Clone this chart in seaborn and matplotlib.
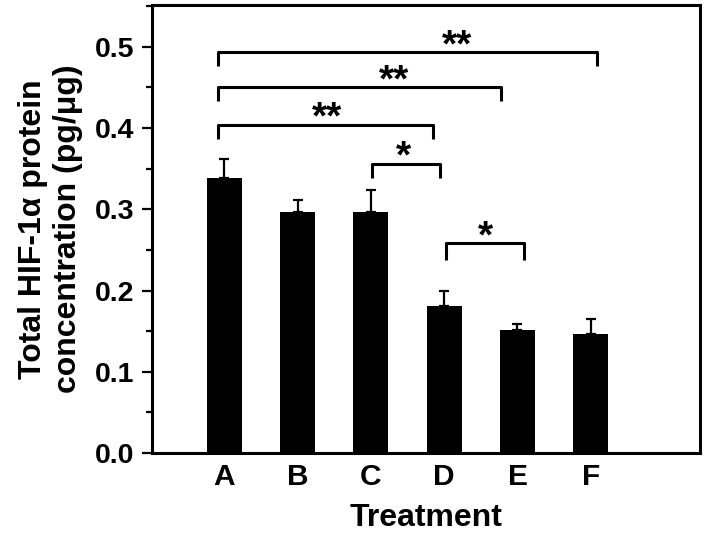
import numpy as np
import matplotlib
matplotlib.use('Agg')
import matplotlib.pyplot as plt
from matplotlib.ticker import MultipleLocator, FormatStrFormatter
import seaborn as sns

# --- data ---
treatments = ['A', 'B', 'C', 'D', 'E', 'F']
means = [0.338, 0.297, 0.297, 0.181, 0.152, 0.146]
errors = [0.024, 0.014, 0.027, 0.018, 0.007, 0.019]

# significance brackets: (left x, right x, bar height, leg drop, label, label x)
brackets = [
    (-0.08, 5.08, 0.493, 0.017, '**', 3.17),
    (-0.09, 3.78, 0.450, 0.017, '**', 2.31),
    (-0.08, 2.85, 0.404, 0.017, '**', 1.40),
    (2.02, 2.94, 0.356, 0.018, '*', 2.44),
    (3.02, 4.09, 0.258, 0.020, '*', 3.56),
]

sns.set_style('ticks')
plt.rcParams['font.family'] = ['Liberation Sans', 'DejaVu Sans']
plt.rcParams['font.weight'] = 'bold'
plt.rcParams['text.color'] = 'black'
plt.rcParams['axes.labelcolor'] = 'black'

fig = plt.figure(figsize=(7.09, 5.37), dpi=100)
ax = fig.add_axes([0.2144, 0.1564, 0.7729, 0.8337])

sns.barplot(x=treatments, y=means, color='black', width=0.48,
            linewidth=0, saturation=1, ax=ax)

# upper-only error bars with caps
ax.errorbar(np.arange(len(treatments)), means,
            yerr=[np.zeros(len(errors)), errors],
            fmt='none', ecolor='black', elinewidth=1.6,
            capsize=3.6, capthick=1.6)

# brackets and stars
for x0, x1, y, drop, label, lx in brackets:
    ax.plot([x0, x0, x1, x1], [y - drop, y, y, y - drop],
            color='black', lw=2.2, solid_capstyle='butt')
    ax.text(lx, y - 0.005, label, ha='center', va='baseline',
            fontsize=28, fontweight='bold', color='black')

ax.set_xlim(-0.985, 6.49)
ax.set_ylim(0, 0.551)
ax.yaxis.set_major_locator(MultipleLocator(0.1))
ax.yaxis.set_minor_locator(MultipleLocator(0.05))
ax.yaxis.set_major_formatter(FormatStrFormatter('%.1f'))

for side in ['left', 'bottom', 'top', 'right']:
    ax.spines[side].set_visible(True)
    ax.spines[side].set_linewidth(2.2)
    ax.spines[side].set_color('black')

ax.tick_params(axis='y', which='major', direction='out', length=7, width=1.6,
               labelsize=20.5, pad=6, color='black', labelcolor='black')
ax.tick_params(axis='y', which='minor', direction='out', length=4, width=1.6,
               color='black')
ax.tick_params(axis='x', length=0, labelsize=21.5, pad=7, labelcolor='black')
for lab in ax.get_xticklabels() + ax.get_yticklabels():
    lab.set_fontweight('bold')

ax.set_xlabel('Treatment', fontsize=23, fontweight='bold', labelpad=9,
              color='black')
ax.set_ylabel('Total HIF-1α protein\nconcentration (pg/μg)', fontsize=23,
              fontweight='bold', linespacing=1.25, labelpad=8, color='black')

fig.savefig('out.png', dpi=100, facecolor='white')
